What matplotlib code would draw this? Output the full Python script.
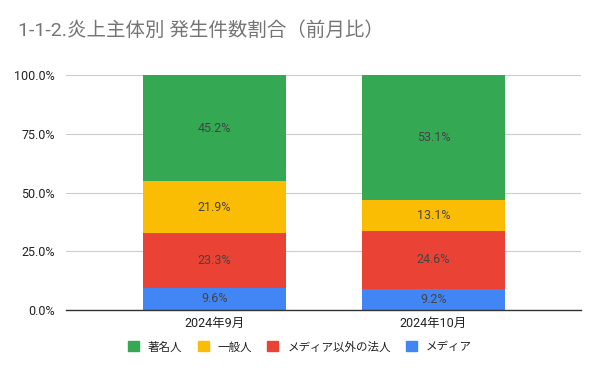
import matplotlib
matplotlib.use("Agg")
import matplotlib.pyplot as plt
from matplotlib.patches import Patch

plt.rcParams['font.family'] = ['Roboto', 'Noto Sans CJK JP', 'DejaVu Sans']

categories = ["2024年9月", "2024年10月"]
series_names = ["メディア", "メディア以外の法人", "一般人", "著名人"]
media = [9.6, 9.2]
corp = [23.3, 24.6]
general = [21.9, 13.1]
celeb = [45.2, 53.1]
values = [media, corp, general, celeb]
colors = ["#4285f4", "#ea4335", "#fbbc04", "#34a853"]
yticks = [0, 25, 50, 75, 100]

fig = plt.figure(figsize=(6, 3.71), dpi=100)
ax = fig.add_axes([0.11, 0.164, 0.858, 0.634])

x = list(range(len(categories)))
bottom = [0.0] * len(categories)
for vals, col in zip(values, colors):
    ax.bar(x, vals, bottom=bottom, width=0.653, color=col, zorder=3)
    for xi, v, b in zip(x, vals, bottom):
        ax.text(xi, b + v / 2, f"{v:.1f}%", ha='center', va='center',
                fontsize=9, color='#444444', zorder=4)
    bottom = [b + v for b, v in zip(bottom, vals)]

ax.set_xlim(-0.678, 1.673)
ax.set_ylim(0, 100)
ax.set_yticks(yticks)
ax.set_yticklabels([f"{t:.1f}%" for t in yticks], fontsize=9, color='#222222')
ax.set_xticks(x)
ax.set_xticklabels(categories, fontsize=9, color='#222222')
ax.tick_params(axis='y', length=0, pad=8)
ax.tick_params(axis='x', length=0, pad=5)
ax.yaxis.grid(True, color='#cccccc', linewidth=0.8, zorder=0)
for s in ['top', 'right', 'left']:
    ax.spines[s].set_visible(False)
ax.spines['bottom'].set_color('#333333')
ax.spines['bottom'].set_linewidth(1.0)
ax.spines['bottom'].set_zorder(5)

fig.text(0.03, 0.919, "1-1-2.炎上主体別 発生件数割合（前月比）", fontsize=14,
         color='#757575', ha='left', va='center')

order = [3, 2, 1, 0]
handles = [Patch(color=colors[i]) for i in order]
labels = [series_names[i] for i in order]
fig.legend(handles, labels, loc='center', bbox_to_anchor=(0.5, 0.065), ncol=4,
           frameon=False, fontsize=8.3, handlelength=0.95, handleheight=0.95,
           columnspacing=1.3, handletextpad=0.8, labelcolor='#222222')

fig.savefig("out.png", dpi=100)
